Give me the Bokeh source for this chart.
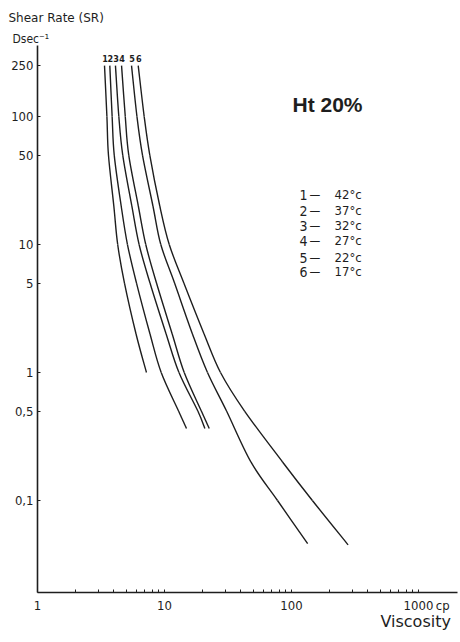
import math
from bokeh.plotting import figure
from bokeh.models import Range1d, FixedTicker, Label, LogAxis, Title
from bokeh.embed import file_html
from bokeh.resources import INLINE

# ---- data ----
sr_short = [250, 100, 50, 20, 10, 5, 2, 1]
sr_mid = [250, 100, 50, 20, 10, 5, 2, 1, 0.5, 0.365]
sr_long5 = [250, 100, 50, 20, 10, 5, 2, 1, 0.5, 0.2, 0.1, 0.046]
sr_long6 = [250, 100, 50, 20, 10, 5, 2, 1, 0.5, 0.2, 0.1, 0.045]

visc_42 = [3.37, 3.52, 3.62, 3.99, 4.28, 4.84, 5.97, 7.21]
visc_37 = [3.71, 3.87, 4.02, 4.56, 5.11, 6.02, 7.69, 9.42, 12.9, 14.9]
visc_32 = [4.11, 4.37, 4.69, 5.53, 6.31, 7.69, 10.3, 13.0, 18.3, 20.8]
visc_27 = [4.59, 4.91, 5.23, 6.22, 7.12, 8.65, 11.5, 14.3, 19.5, 22.5]
visc_22 = [5.50, 6.07, 6.71, 8.11, 9.35, 12.0, 16.6, 21.8, 30.8, 47.9, 77.6, 134]
visc_17 = [6.21, 6.92, 7.66, 9.18, 10.9, 14.2, 20.5, 27.6, 42.7, 85.0, 146, 279]

curve_ids = ["1", "2", "3", "4", "5", "6"]
temps = ["42°c", "37°c", "32°c", "27°c", "22°c", "17°c"]

y_ticks = [0.1, 0.5, 1, 5, 10, 50, 100, 250]
y_tick_labels = ["0,1", "0,5", "1", "5", "10", "50", "100", "250"]
x_ticks = [1, 10, 100, 1000]
x_tick_labels = ["1", "10", "100", "1000"]
x_minor = [m * d for d in (1, 10, 100) for m in range(2, 10)]

# ---- figure ----
INK = "#1e1e1e"
TICKFONT = "'DejaVu Sans Condensed', 'DejaVu Sans', sans-serif"
HANDFONT = "'DejaVu Sans', sans-serif"

p = figure(width=460, height=642, x_axis_type="log", y_axis_type="log",
           x_range=Range1d(1, 2028), y_range=Range1d(0.0191, 359),
           output_backend="svg", toolbar_location=None,
           min_border_left=37, min_border_right=3, min_border_top=45,
           min_border_bottom=50)
p.outline_line_color = None
p.grid.visible = False
p.background_fill_color = "white"
p.border_fill_color = "white"

# positions of extra axis texts (placed as extra ticks of the axes)
CP_AT = 1550      # "cp" unit after 1000
VISC_AT = 950     # "Viscosity" title under the x axis

xa = p.xaxis[0]
xa.ticker = FixedTicker(ticks=x_ticks + [CP_AT], minor_ticks=x_minor + x_ticks)
ov = {}
for t, l in zip(x_ticks, x_tick_labels):
    ov[t] = l
    ov[str(t)] = l
ov[CP_AT] = "cp"
ov[str(CP_AT)] = "cp"
xa.major_label_overrides = ov
xa.axis_line_color = INK
xa.axis_line_width = 1.6
xa.major_tick_in = 0
xa.major_tick_out = 0
xa.minor_tick_in = 3
xa.minor_tick_out = 0
xa.minor_tick_line_color = INK
xa.major_label_text_font = TICKFONT
xa.major_label_text_font_size = "13px"
xa.major_label_text_color = INK
xa.major_label_standoff = 5

ya = p.yaxis[0]
ya.ticker = FixedTicker(ticks=y_ticks, minor_ticks=y_ticks)
ov = {}
for t, l in zip(y_ticks, y_tick_labels):
    ov[t] = l
    ov[str(t)] = l
ya.major_label_overrides = ov
ya.axis_line_color = INK
ya.axis_line_width = 1.6
ya.major_tick_in = 0
ya.major_tick_out = 0
ya.minor_tick_in = 3
ya.minor_tick_out = 0
ya.minor_tick_line_color = INK
ya.major_label_text_font = TICKFONT
ya.major_label_text_font_size = "13px"
ya.major_label_text_color = INK
ya.major_label_standoff = 4

xa2 = LogAxis(ticker=FixedTicker(ticks=[VISC_AT], minor_ticks=[]),
              major_label_overrides={VISC_AT: "Viscosity", str(VISC_AT): "Viscosity"},
              axis_line_color=None, major_tick_line_color=None,
              minor_tick_line_color=None, major_label_standoff=-10,
              major_label_text_font=HANDFONT, major_label_text_font_size="16px",
              major_label_text_color=INK)
p.add_layout(xa2, "below")

# unit of the y axis, right next to the top of the axis
p.add_layout(Title(text="Dsec⁻¹", align="left", offset=-25, standoff=0,
                   text_font=TICKFONT, text_font_size="12px",
                   text_font_style="normal", text_color=INK), "above")
# y axis name
p.add_layout(Title(text="Shear Rate (SR)", align="left", offset=-29, standoff=10,
                   text_font=HANDFONT, text_font_size="12px",
                   text_font_style="normal", text_color=INK), "above")


def dx(px):
    return 10 ** ((px - 37) / 127)


def dy(py):
    return 10 ** ((372 - py) / 128)


def smooth(xs, ys):
    """Cubic (Catmull-Rom) pieces through the read points, in log space."""
    lx = [math.log10(v) for v in xs]
    ly = [math.log10(v) for v in ys]
    n = len(lx)
    out = {k: [] for k in ("x0", "y0", "x1", "y1", "cx0", "cy0", "cx1", "cy1")}
    for i in range(n - 1):
        a = max(i - 1, 0)
        d = min(i + 2, n - 1)
        c0x = lx[i] + (lx[i + 1] - lx[a]) / 6
        c0y = ly[i] + (ly[i + 1] - ly[a]) / 6
        c1x = lx[i + 1] - (lx[d] - lx[i]) / 6
        c1y = ly[i + 1] - (ly[d] - ly[i]) / 6
        out["x0"].append(xs[i]); out["y0"].append(ys[i])
        out["x1"].append(xs[i + 1]); out["y1"].append(ys[i + 1])
        out["cx0"].append(10 ** c0x); out["cy0"].append(10 ** c0y)
        out["cx1"].append(10 ** c1x); out["cy1"].append(10 ** c1y)
    return out


for v, s in [(visc_42, sr_short), (visc_37, sr_mid), (visc_32, sr_mid),
             (visc_27, sr_mid), (visc_22, sr_long5), (visc_17, sr_long6)]:
    p.bezier(line_color=INK, line_width=1.4, **smooth(v, s))

# curve numbers above the tops
for cid, v in zip(curve_ids, [visc_42, visc_37, visc_32, visc_27, visc_22, visc_17]):
    p.add_layout(Label(x=v[0] * 1.01, y=dy(58), text=cid, text_align="center",
                       text_baseline="middle", text_font_size="9px",
                       text_font_style="bold", text_color=INK, text_font=TICKFONT))

# legend
row_y = [194, 210, 225, 240, 257, 271]
for cid, t, py in zip(curve_ids, temps, row_y):
    p.add_layout(Label(x=dx(303), y=dy(py), text=cid, text_align="center",
                       text_baseline="middle", text_font_size="14px",
                       text_color=INK, text_font=TICKFONT))
    p.add_layout(Label(x=dx(309), y=dy(py), text="—", text_align="left",
                       text_baseline="middle", text_font_size="12px",
                       text_color=INK, text_font=TICKFONT))
    p.add_layout(Label(x=dx(334), y=dy(py), text=t, text_align="left",
                       text_baseline="middle", text_font_size="13px",
                       text_color=INK, text_font=TICKFONT))

p.add_layout(Label(x=dx(292), y=dy(104), text="Ht 20%", text_align="left",
                   text_baseline="middle", text_font_size="21px",
                   text_font_style="bold", text_color=INK,
                   text_font="'Liberation Sans', sans-serif"))

open("out.html", "w").write(file_html(p, INLINE))
